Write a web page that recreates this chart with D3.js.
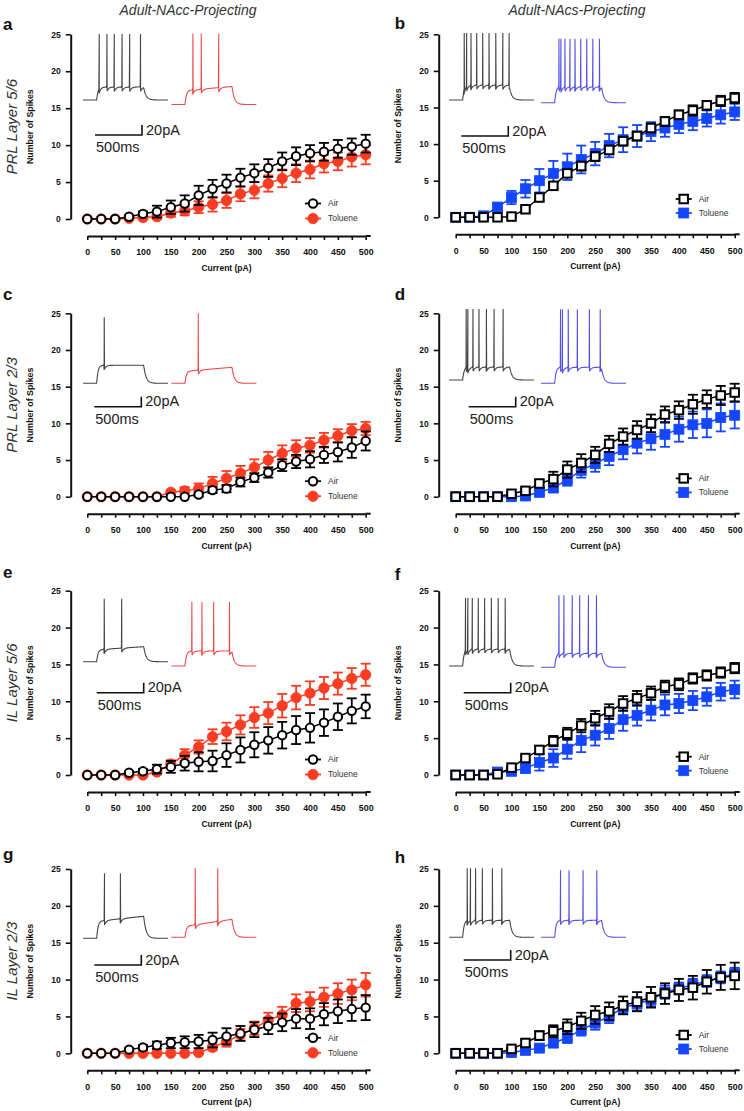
<!DOCTYPE html>
<html><head><meta charset="utf-8">
<script src="https://cdn.jsdelivr.net/npm/d3@7"></script>
<style>body{margin:0;background:#fff}svg{display:block}</style>
</head><body>
<svg id="chart" width="744" height="1111"></svg>
<script>
// ---------- DATA ----------
const currents = [0,25,50,75,100,125,150,175,200,225,250,275,300,325,350,375,400,425,450,475,500];
const xTickLabels = [0,50,100,150,200,250,300,350,400,450,500];
const yTicks = [0,5,10,15,20,25];
const columnTitles = ["Adult-NAcc-Projecting", "Adult-NAcs-Projecting"];
const rowTitles = ["PRL Layer 5/6", "PRL Layer 2/3", "IL Layer 5/6", "IL Layer 2/3"];
const seriesNames = ["Air", "Toluene"];

const airA    = [0,0,0,0.3,0.7,1.0,1.6,2.1,3.2,4.1,4.8,5.6,6.2,6.9,7.8,8.5,8.9,9.1,9.5,9.8,10.2];
const airSemA = [0,0,0,0.2,0.3,0.8,0.9,1.1,1.3,1.2,1.2,1.2,1.2,1.2,1.2,1.2,1.1,1.2,1.2,1.1,1.2];
const tolA    = [0,0,0,0.1,0.2,0.3,0.8,1.1,1.6,2.0,2.5,3.4,3.9,4.8,5.5,6.2,6.7,7.5,7.8,8.4,8.7];
const tolSemA = [0,0,0,0.2,0.3,0.4,0.5,0.6,0.8,1.0,1.0,1.0,1.1,1.1,1.2,1.2,1.2,1.2,1.2,1.3,1.3];

const airB    = [0,0,0,0,0.1,1.1,2.7,4.3,6.0,7.0,8.3,9.2,10.4,11.1,12.2,13.1,14.0,14.6,15.3,15.9,16.3];
const airSemB = [0,0,0,0,0.1,0.3,0.4,0.4,0.5,0.6,0.6,0.6,0.6,0.6,0.6,0.6,0.6,0.7,0.6,0.7,0.7];
const tolB    = [0,0,0.2,1.4,2.7,3.9,5.0,6.0,6.9,7.9,8.7,9.8,10.6,11.1,11.7,12.2,12.7,13.1,13.5,14.0,14.4];
const tolSemB = [0,0,0.1,0.5,0.9,1.2,1.6,1.7,1.8,1.9,1.6,1.6,1.7,1.5,1.3,1.2,1.2,1.2,1.1,1.2,1.1];

const airC    = [0,0,0,0,0,0,0,0,0.3,0.9,1.1,2.0,2.6,3.3,4.3,4.8,5.1,5.7,6.1,6.7,7.6];
const airSemC = [0,0,0,0,0,0,0,0,0.3,0.4,0.5,0.6,0.6,0.7,0.8,0.9,1.1,1.1,1.3,1.4,1.3];
const tolC    = [0,0,0,0,0,0,0.6,0.8,1.1,1.8,2.5,3.2,4.0,5.0,5.9,6.6,7.0,7.7,8.3,9.0,9.3];
const tolSemC = [0,0,0,0,0,0,0.3,0.5,0.7,0.9,1.0,1.0,1.1,1.1,1.1,1.1,1.0,1.0,0.9,0.9,0.9];

const airD    = [0,0,0,0,0.4,0.8,1.8,2.4,3.7,4.6,5.7,7.2,8.2,9.1,10.0,11.2,11.8,12.6,13.3,13.8,14.2];
const airSemD = [0,0,0,0,0.2,0.3,0.5,1.0,1.1,1.2,1.1,1.1,1.1,1.2,1.2,1.1,1.2,1.3,1.2,1.3,1.2];
const tolD    = [0,0,0,0,0,0.1,0.6,1.2,2.3,3.6,4.5,5.5,6.4,7.3,7.9,8.5,9.2,9.8,10.0,10.8,11.1];
const tolSemD = [0,0,0,0,0,0.2,0.4,0.6,0.8,1.0,1.1,1.2,1.3,1.4,1.5,1.7,1.7,1.8,1.9,1.9,1.8];

const airE    = [0,0,0,0.3,0.5,0.8,1.1,1.6,1.8,1.9,2.7,3.4,4.1,4.7,5.4,6.1,6.4,7.1,7.9,8.7,9.3];
const airSemE = [0,0,0,0.2,0.3,0.6,0.8,1.0,1.3,1.4,1.6,1.7,1.7,1.8,1.8,1.9,2.0,1.8,1.8,1.7,1.6];
const tolE    = [0,0,0,0,0,0.4,1.5,2.7,3.8,5.2,5.9,6.8,7.8,8.4,9.4,10.5,11.1,11.8,12.4,13.1,13.6];
const tolSemE = [0,0,0,0,0.2,0.3,0.5,0.8,0.9,1.0,1.2,1.3,1.4,1.5,1.6,1.6,1.6,1.5,1.5,1.4,1.5];

const airF    = [0,0,0,0.1,1.0,2.3,3.4,4.6,5.6,6.7,7.7,8.6,9.7,10.4,11.1,12.0,12.3,13.1,13.5,13.9,14.5];
const airSemF = [0,0,0,0,0.2,0.3,0.5,0.7,0.8,0.9,1.0,1.0,1.0,1.0,0.9,0.8,0.8,0.7,0.7,0.7,0.7];
const tolF    = [0,0,0,0.4,0.5,0.9,1.7,2.3,3.5,4.7,5.4,6.3,7.5,8.1,8.8,9.5,9.7,10.1,10.6,11.3,11.6];
const tolSemF = [0,0,0,0.2,0.3,0.6,1.1,1.2,1.3,1.6,1.4,1.4,1.5,1.4,1.4,1.4,1.3,1.3,1.2,1.2,1.2];

const airG    = [0,0,0,0.5,0.8,1.1,1.4,1.5,1.6,1.8,2.3,2.7,3.2,3.7,4.2,4.7,4.7,5.3,5.7,6.0,6.2];
const airSemG = [0,0,0,0.2,0.3,0.5,0.7,0.8,0.9,1.0,1.1,1.0,1.0,1.1,1.2,1.3,1.4,1.5,1.6,1.6,1.7];
const tolG    = [0,0,0,0,0,0,0,0,0.1,0.8,1.6,2.5,3.4,4.5,5.2,6.8,7.0,7.6,8.1,8.6,9.3];
const tolSemG = [0,0,0,0,0,0,0,0,0.2,0.4,0.7,0.8,0.9,1.0,1.1,1.2,1.3,1.3,1.4,1.4,1.6];

const airH    = [0,0,0,0,0.6,1.4,2.4,3.0,3.6,4.4,5.2,5.7,6.5,7.0,7.6,8.1,8.6,8.9,9.7,10.3,10.5];
const airSemH = [0,0,0,0,0.2,0.4,0.6,0.8,1.0,1.1,1.2,1.2,1.2,1.3,1.4,1.4,1.5,1.6,1.6,1.7,1.8];
const tolH    = [0,0,0,0,0.1,0.4,0.7,1.4,2.1,3.2,4.1,5.0,6.2,6.7,7.3,8.3,8.8,9.3,9.8,10.3,10.8];
const tolSemH = [0,0,0,0,0.1,0.2,0.3,0.6,0.7,0.8,0.9,0.9,0.9,0.9,0.9,0.9,0.8,0.8,0.8,0.8,0.8];

// example traces: spike times (ms after step onset), plateau & peak (mV above rest), plateau drift (mV)
const traceSpikesAirA = [25,107,185,268,349,464], traceSpikesTolA = [82,171,357];
const traceSpikesAirB = [14,40,86,147,211,278,350,425,492], traceSpikesTolB = [43,64,107,161,214,275,339,404,474];
const traceSpikesAirC = [78], traceSpikesTolC = [139];
const traceSpikesAirD = [35,53,107,171,250,332,428], traceSpikesTolD = [60,81,142,239,367,482];
const traceSpikesAirE = [78,264], traceSpikesTolE = [71,178,303,471];
const traceSpikesAirF = [28,53,100,164,231,303,375,450], traceSpikesTolF = [43,96,185,264,357,442];
const traceSpikesAirG = [81,250], traceSpikesTolG = [107,346];
const traceSpikesAirH = [46,81,135,207,314,414], traceSpikesTolH = [60,150,300,446];
// [plateau, drift, peak] for air / toluene traces
const traceLevelsAir = {a:[13,0,66], b:[15,0,67], c:[18,0,66], d:[13,0,71], e:[12,3,63], f:[17,0,68], g:[17,5,65], h:[17,0,69]};
const traceLevelsTol = {a:[14,4,71], b:[16,0,64], c:[12,4,70], d:[16,0,74], e:[15,0,64], f:[14,0,72], g:[11,7,69], h:[17,0,67]};
const stepDurationMs = 500;
const scaleBarLabels = ["20pA", "500ms"];

// ---------- LAYOUT ----------
const panels = [
  {key:'a', col:0, row:0, air:airA, airSem:airSemA, tol:tolA, tolSem:tolSemA, spA:traceSpikesAirA, spT:traceSpikesTolA},
  {key:'b', col:1, row:0, air:airB, airSem:airSemB, tol:tolB, tolSem:tolSemB, spA:traceSpikesAirB, spT:traceSpikesTolB},
  {key:'c', col:0, row:1, air:airC, airSem:airSemC, tol:tolC, tolSem:tolSemC, spA:traceSpikesAirC, spT:traceSpikesTolC},
  {key:'d', col:1, row:1, air:airD, airSem:airSemD, tol:tolD, tolSem:tolSemD, spA:traceSpikesAirD, spT:traceSpikesTolD},
  {key:'e', col:0, row:2, air:airE, airSem:airSemE, tol:tolE, tolSem:tolSemE, spA:traceSpikesAirE, spT:traceSpikesTolE},
  {key:'f', col:1, row:2, air:airF, airSem:airSemF, tol:tolF, tolSem:tolSemF, spA:traceSpikesAirF, spT:traceSpikesTolF},
  {key:'g', col:0, row:3, air:airG, airSem:airSemG, tol:tolG, tolSem:tolSemG, spA:traceSpikesAirG, spT:traceSpikesTolG},
  {key:'h', col:1, row:3, air:airH, airSem:airSemH, tol:tolH, tolSem:tolSemH, spA:traceSpikesAirH, spT:traceSpikesTolH},
];
const geom = {
  a:{top:34.3, y0:219,    letterY:30,    airBase:100,   tolBase:104.5, barX:95,    barY:135},
  b:{top:34.3, y0:217.3,  letterY:29.3,  airBase:100,   tolBase:102.7, barX:461.3, barY:136},
  c:{top:313.3,y0:496.7,  letterY:300,   airBase:383.3, tolBase:383.3, barX:94.3,  barY:406.7},
  d:{top:313.3,y0:496.7,  letterY:300,   airBase:380,   tolBase:383.3, barX:468.7, barY:406.7},
  e:{top:590.7,y0:775,    letterY:578.3, airBase:661.7, tolBase:666,   barX:96.7,  barY:692.7},
  f:{top:590.7,y0:775,    letterY:580,   airBase:666,   tolBase:667.3, barX:463.7, barY:692.7},
  g:{top:869,  y0:1053.3, letterY:860,   airBase:938.3, tolBase:937.3, barX:94.3,  barY:965},
  h:{top:869,  y0:1053.3, letterY:863.3, airBase:937.3, tolBase:937.3, barX:463.7, barY:960},
};
const colGeom = [
  {ox:70.7,  x0:87.3,  x1:365.7, airOn:96.7,  tolOn:185,   legX:313,   color:'#fa3c22', traceColor:'#ee4a4a', shape:'circle'},
  {ox:438.7, x0:455.7, x1:734.7, airOn:462.7, tolOn:554.7, legX:683.7, color:'#1546ff', traceColor:'#5350e6', shape:'square'}
];
const legendDy = [[-15.5,-0.5],[-18.3,-4.3]];
const FONT = "'Liberation Sans', Arial, Helvetica, sans-serif";

const svg = d3.select('#chart');
svg.attr('font-family', FONT);

// column titles
columnTitles.forEach((t,i)=>{
  svg.append('text').attr('x', i===0?188:577).attr('y', 15).attr('text-anchor','middle')
    .attr('font-size',14).attr('font-style','italic').attr('fill','#333').text(t);
});

function marker(g, shape, cx, cy, filled, color) {
  if (shape === 'circle') {
    g.append('circle').attr('cx',cx).attr('cy',cy).attr('r', filled?5.2:4.2)
      .attr('fill', filled?color:'#fff').attr('stroke', filled?color:'#000').attr('stroke-width', filled?0.8:2);
  } else {
    const s = filled?10:8.5;
    g.append('rect').attr('x',cx-s/2).attr('y',cy-s/2).attr('width',s).attr('height',s)
      .attr('fill', filled?color:'#fff').attr('stroke', filled?color:'#000').attr('stroke-width', filled?0.8:2);
  }
}

function tracePoints(spikes, plateau, drift, peak) {
  const ahp = 5, tauR = 14, tauD = 25, tauA = 18;
  const v = t => {
    if (t < 0) return 0;
    if (t <= stepDurationMs) {
      let val = plateau*(1-Math.exp(-t/tauR)) + drift*(t/stepDurationMs);
      spikes.forEach(s => { if (t > s) val -= ahp*Math.exp(-(t-s)/tauA); });
      return val;
    }
    return v(stepDurationMs)*Math.exp(-(t-stepDurationMs)/tauD);
  };
  const pts = [];
  let si = 0;
  for (let t = -145; t <= 760; t += 4) {
    while (si < spikes.length && spikes[si] <= t) {
      const s = spikes[si];
      pts.push([s-2, v(s-2)+1.5]); pts.push([s+2, peak]); pts.push([s+6, v(s+6)]);
      si++;
    }
    pts.push([t, v(t)]);
  }
  pts.sort((a,b)=>a[0]-b[0]);
  return pts;
}

panels.forEach(p => {
  const g = geom[p.key], c = colGeom[p.col];
  const gp = svg.append('g');
  const x = d3.scaleLinear().domain([0,500]).range([c.x0, c.x1]);
  const y = d3.scaleLinear().domain([0,25]).range([g.y0, g.top]);
  const axisY = g.y0 + 17;

  // panel letter
  gp.append('text').attr('x', p.col===0?3:394.7).attr('y', g.letterY).attr('font-size',17)
    .attr('font-weight','bold').attr('fill','#111').text(p.key);

  // row title
  if (p.col === 0) {
    const cy = (g.y0 + g.top)/2;
    gp.append('text').attr('transform', `translate(17,${cy}) rotate(-90)`).attr('text-anchor','middle')
      .attr('font-size',15).attr('font-style','italic').attr('fill','#333').text(rowTitles[p.row]);
  }

  // y axis
  const ya = gp.append('g').attr('transform', `translate(${c.ox},0)`)
    .call(d3.axisLeft(y).tickValues(yTicks).tickSize(5).tickSizeOuter(0).tickPadding(5));
  ya.select('.domain').attr('stroke','#111').attr('stroke-width',2);
  ya.selectAll('.tick line').attr('stroke','#111').attr('stroke-width',1.6);
  ya.selectAll('.tick text').attr('font-size',8.5).attr('font-weight','bold').attr('fill','#111').attr('font-family',FONT);
  gp.append('text').attr('transform', `translate(${c.ox-38},${(g.y0+g.top)/2}) rotate(-90)`)
    .attr('text-anchor','middle').attr('font-size',8.8).attr('font-weight','bold').attr('fill','#111').text('Number of Spikes');

  // x axis
  const xa = gp.append('g').attr('transform', `translate(0,${axisY})`)
    .call(d3.axisBottom(x).tickValues(currents).tickSize(4).tickSizeOuter(0).tickPadding(9)
      .tickFormat(d => xTickLabels.includes(d) ? d : ''));
  xa.select('.domain').attr('stroke','#111').attr('stroke-width',2);
  xa.append('line').attr('x1', c.x1).attr('x2', c.x1+5).attr('stroke','#111').attr('stroke-width',2);
  xa.selectAll('.tick line').attr('stroke','#111').attr('stroke-width',1.6);
  xa.selectAll('.tick text').attr('font-size',8.8).attr('font-weight','bold').attr('fill','#111').attr('font-family',FONT);
  gp.append('text').attr('x', (c.x0+c.x1)/2).attr('y', axisY+35).attr('text-anchor','middle')
    .attr('font-size',8.5).attr('font-weight','bold').attr('fill','#111').text('Current (pA)');

  // series
  const drawSeries = (vals, sems, filled, color) => {
    const data = currents.map((cur,i)=>({cur, v:vals[i], e:sems[i]}));
    const sg = gp.append('g');
    data.forEach(d => {
      if (d.e > 0) {
        const xx = x(d.cur), yt = y(d.v + d.e), yb = y(Math.max(0,d.v - d.e));
        sg.append('line').attr('x1',xx).attr('x2',xx).attr('y1',yt).attr('y2',yb).attr('stroke',color).attr('stroke-width',1.8);
        sg.append('line').attr('x1',xx-5).attr('x2',xx+5).attr('y1',yt).attr('y2',yt).attr('stroke',color).attr('stroke-width',1.8);
        sg.append('line').attr('x1',xx-5).attr('x2',xx+5).attr('y1',yb).attr('y2',yb).attr('stroke',color).attr('stroke-width',1.8);
      }
    });
    sg.append('path').datum(data).attr('fill','none').attr('stroke',color).attr('stroke-width',1.5)
      .attr('d', d3.line().x(d=>x(d.cur)).y(d=>y(d.v)));
    data.forEach(d => marker(sg, c.shape, x(d.cur), y(d.v), filled, color));
  };
  drawSeries(p.tol, p.tolSem, true, c.color);
  drawSeries(p.air, p.airSem, false, '#000');

  // legend
  const ld = legendDy[p.col];
  [[seriesNames[0], false, '#000'], [seriesNames[1], true, c.color]].forEach((s,i) => {
    const ly = g.y0 + ld[i];
    gp.append('line').attr('x1', c.legX-8).attr('x2', c.legX+8).attr('y1', ly).attr('y2', ly).attr('stroke', s[2]).attr('stroke-width',1.8);
    marker(gp, c.shape, c.legX, ly, s[1], s[2]);
    gp.append('text').attr('x', c.legX+15).attr('y', ly).attr('dy','0.35em').attr('font-size',8.5).attr('fill','#333').text(s[0]);
  });

  // inset traces
  const mkTrace = (on, base, spikes, lv, color) => {
    const tx = d3.scaleLinear().domain([0, stepDurationMs]).range([on, on+47]);
    const vy = d3.scaleLinear().domain([0, 1]).range([base, base-1]);
    const pts = tracePoints(spikes, lv[0], lv[1], lv[2]);
    gp.append('path').attr('fill','none').attr('stroke',color).attr('stroke-width',1.1)
      .attr('d', d3.line().x(d=>tx(d[0])).y(d=>vy(d[1]))(pts));
  };
  mkTrace(c.airOn, g.airBase, p.spA, traceLevelsAir[p.key], '#444');
  mkTrace(c.tolOn, g.tolBase, p.spT, traceLevelsTol[p.key], c.traceColor);

  // scale bar
  gp.append('path').attr('fill','none').attr('stroke','#111').attr('stroke-width',1.6)
    .attr('d', `M${g.barX},${g.barY}H${g.barX+47}V${g.barY-10}`);
  gp.append('text').attr('x', g.barX+51).attr('y', g.barY-0.5).attr('font-size',14.5).attr('fill','#222').text(scaleBarLabels[0]);
  gp.append('text').attr('x', g.barX+1).attr('y', g.barY+17).attr('font-size',14.5).attr('fill','#222').text(scaleBarLabels[1]);
});
</script>
</body></html>
